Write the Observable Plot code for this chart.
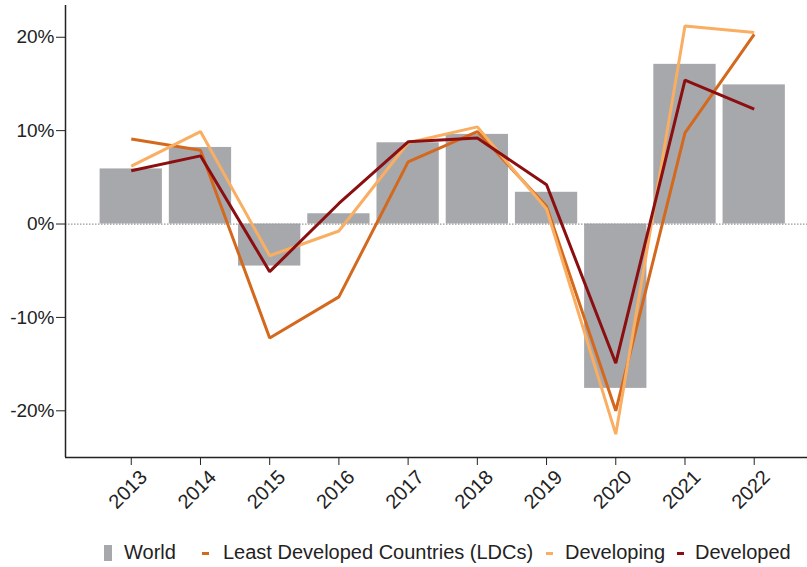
<!DOCTYPE html>
<html><head><meta charset="utf-8">
<script src="https://cdn.jsdelivr.net/npm/d3@7"></script>
<script src="https://cdn.jsdelivr.net/npm/@observablehq/plot@0.6"></script>
<style>
body{margin:0;background:#fff;font-family:"Liberation Sans",Arial,sans-serif;}
#legend{position:relative;height:37px;width:807px;font-size:20px;color:#222;}
#legend .sw{position:absolute;display:block;}
#legend .lbl{position:absolute;top:10px;line-height:24px;white-space:nowrap;}
</style></head><body>
<div id="chart"></div><div id="legend"></div>
<script>
const years = [2013, 2014, 2015, 2016, 2017, 2018, 2019, 2020, 2021, 2022];
const world = [5.9, 8.2, -4.5, 1.1, 8.7, 9.6, 3.4, -17.6, 17.1, 14.9];
const ldc = [9.1, 7.9, -12.2, -7.8, 6.65, 9.9, 1.9, -20.0, 9.75, 20.3];
const developing = [6.2, 9.9, -3.4, -0.75, 8.7, 10.4, 1.6, -22.5, 21.2, 20.5];
const developed = [5.7, 7.3, -5.1, 2.2, 8.8, 9.2, 4.2, -14.9, 15.4, 12.3];
const seriesNames = ["World", "Least Developed Countries (LDCs)", "Developing", "Developed"];
const seriesColors = ["#a7a8ac", "#d4691e", "#f9ae62", "#8b0f10"];
const yTicks = [-20, -10, 0, 10, 20];

const worldData = years.map((year, i) => ({year, value: world[i]}));
const lineData = [];
[ldc, developing, developed].forEach((arr, k) => {
  years.forEach((year, i) => lineData.push({year, value: arr[i], series: seriesNames[k + 1]}));
});

const xMin = 2012.05, xMax = 2022.77, yMin = -25, yMax = 23.4;

const chart = Plot.plot({
  width: 807, height: 530,
  marginLeft: 65, marginRight: 0, marginTop: 5, marginBottom: 73,
  style: {fontFamily: "'Liberation Sans', Arial, sans-serif", fontSize: "19px", color: "#222", background: "white"},
  x: {type: "linear", domain: [xMin, xMax], ticks: years, tickFormat: () => "", tickSize: 8, label: null},
  y: {domain: [yMin, yMax], ticks: yTicks, tickFormat: d => d + "%", tickSize: 9, tickPadding: 2, label: null},
  color: {domain: seriesNames, range: seriesColors},
  marks: [
    Plot.rect(worldData, {x1: d => d.year - 0.45, x2: d => d.year + 0.45, y1: () => 0, y2: "value", fill: seriesColors[0]}),
    Plot.ruleY([0], {stroke: "#9a9a9a", strokeWidth: 1.2, strokeDasharray: "1.5,1.5"}),
    Plot.line(lineData, {x: "year", y: "value", z: "series", stroke: "series", strokeWidth: 3, strokeLinejoin: "miter", strokeLinecap: "butt"}),
    Plot.ruleX([xMin], {stroke: "#222", strokeWidth: 1.5}),
    Plot.ruleY([yMin], {stroke: "#222", strokeWidth: 1.5}),
    Plot.text(years, {x: d => d, frameAnchor: "bottom", text: d => String(d), rotate: -45, textAnchor: "end", dx: 17, dy: 21, fontSize: 20, fill: "#222"})
  ]
});
document.getElementById("chart").appendChild(chart);

// legend layout: swatch left, text left
const swLeft = [104, 202, 546, 677];
const txtLeft = [124, 223, 565, 695];
const legend = d3.select("#legend");
seriesNames.forEach((name, i) => {
  const sw = legend.append("span").attr("class", "sw").style("background", seriesColors[i]).style("left", swLeft[i] + "px");
  if (i === 0) sw.style("width", "8px").style("height", "16px").style("top", "15px");
  else sw.style("width", "7px").style("height", "3px").style("top", "21.5px");
  legend.append("span").attr("class", "lbl").style("left", txtLeft[i] + "px").text(name);
});
</script>
</body></html>
